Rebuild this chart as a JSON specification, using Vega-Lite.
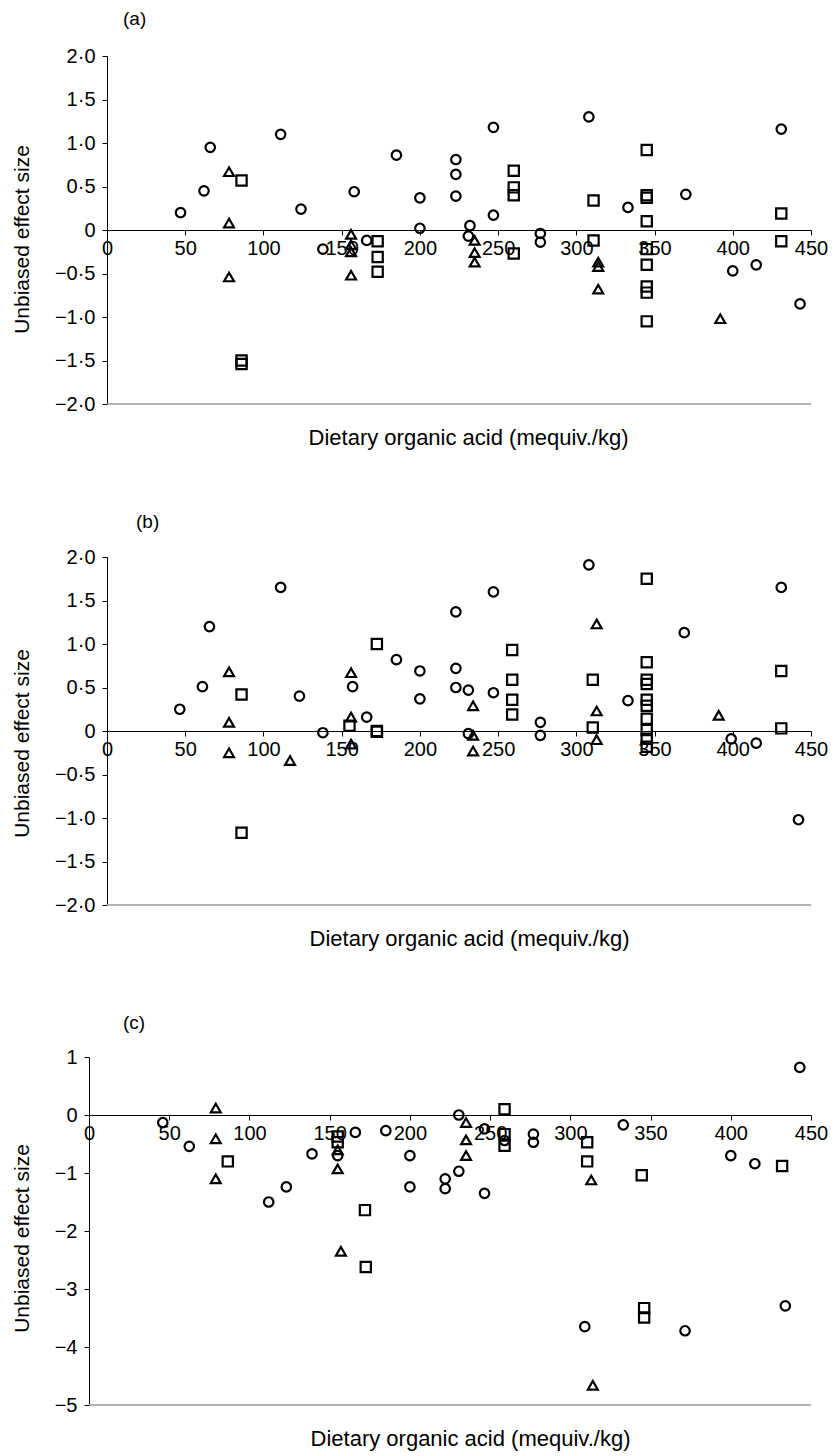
{
  "$schema": "https://vega.github.io/schema/vega-lite/v6.json",
  "background": "white",
  "padding": {"left": 5, "top": 10, "right": 2, "bottom": 2},
  "config": {
    "font": "Liberation Sans",
    "view": {"stroke": null},
    "axis": {"grid": false, "domainColor": "black", "domainWidth": 1, "tickColor": "black", "tickWidth": 1, "labelColor": "black", "titleColor": "black", "titleFontWeight": "normal", "labelOverlap": false, "labelFlush": false}
  },
  "datasets": {
    "a": [
      {"x":47,"y":0.2,"g":"circle"},{"x":62,"y":0.45,"g":"circle"},{"x":66,"y":0.95,"g":"circle"},{"x":111,"y":1.1,"g":"circle"},{"x":124,"y":0.24,"g":"circle"},{"x":138,"y":-0.22,"g":"circle"},{"x":158,"y":0.44,"g":"circle"},{"x":166,"y":-0.12,"g":"circle"},{"x":185,"y":0.86,"g":"circle"},{"x":200,"y":0.37,"g":"circle"},{"x":200,"y":0.02,"g":"circle"},{"x":223,"y":0.81,"g":"circle"},{"x":223,"y":0.64,"g":"circle"},{"x":223,"y":0.39,"g":"circle"},{"x":232,"y":0.05,"g":"circle"},{"x":231,"y":-0.07,"g":"circle"},{"x":247,"y":1.18,"g":"circle"},{"x":247,"y":0.17,"g":"circle"},{"x":277,"y":-0.04,"g":"circle"},{"x":277,"y":-0.14,"g":"circle"},{"x":308,"y":1.3,"g":"circle"},{"x":333,"y":0.26,"g":"circle"},{"x":370,"y":0.41,"g":"circle"},{"x":400,"y":-0.47,"g":"circle"},{"x":415,"y":-0.4,"g":"circle"},{"x":431,"y":1.16,"g":"circle"},{"x":443,"y":-0.85,"g":"circle"},
      {"x":78,"y":0.67,"g":"triangle"},{"x":78,"y":0.08,"g":"triangle"},{"x":78,"y":-0.54,"g":"triangle"},{"x":156,"y":-0.05,"g":"triangle"},{"x":156,"y":-0.17,"g":"triangle"},{"x":156,"y":-0.25,"g":"triangle"},{"x":156,"y":-0.52,"g":"triangle"},{"x":235,"y":-0.12,"g":"triangle"},{"x":235,"y":-0.26,"g":"triangle"},{"x":235,"y":-0.37,"g":"triangle"},{"x":314,"y":-0.37,"g":"triangle"},{"x":314,"y":-0.42,"g":"triangle"},{"x":314,"y":-0.68,"g":"triangle"},{"x":392,"y":-1.02,"g":"triangle"},
      {"x":86,"y":0.57,"g":"square"},{"x":86,"y":-1.5,"g":"square"},{"x":86,"y":-1.54,"g":"square"},{"x":173,"y":-0.13,"g":"square"},{"x":173,"y":-0.31,"g":"square"},{"x":173,"y":-0.48,"g":"square"},{"x":260,"y":0.68,"g":"square"},{"x":260,"y":0.49,"g":"square"},{"x":260,"y":0.4,"g":"square"},{"x":260,"y":-0.27,"g":"square"},{"x":311,"y":0.34,"g":"square"},{"x":311,"y":-0.12,"g":"square"},{"x":345,"y":0.92,"g":"square"},{"x":345,"y":0.4,"g":"square"},{"x":345,"y":0.37,"g":"square"},{"x":345,"y":0.1,"g":"square"},{"x":345,"y":-0.22,"g":"square"},{"x":345,"y":-0.4,"g":"square"},{"x":345,"y":-0.65,"g":"square"},{"x":345,"y":-0.72,"g":"square"},{"x":345,"y":-1.05,"g":"square"},{"x":431,"y":0.19,"g":"square"},{"x":431,"y":-0.13,"g":"square"}
    ],
    "b": [
      {"x":46.5,"y":0.25,"g":"circle"},{"x":61,"y":0.51,"g":"circle"},{"x":65.5,"y":1.2,"g":"circle"},{"x":111,"y":1.65,"g":"circle"},{"x":123,"y":0.4,"g":"circle"},{"x":138,"y":-0.02,"g":"circle"},{"x":157,"y":0.51,"g":"circle"},{"x":166,"y":0.16,"g":"circle"},{"x":185,"y":0.82,"g":"circle"},{"x":200,"y":0.69,"g":"circle"},{"x":200,"y":0.37,"g":"circle"},{"x":223,"y":1.37,"g":"circle"},{"x":223,"y":0.72,"g":"circle"},{"x":223,"y":0.5,"g":"circle"},{"x":231,"y":0.47,"g":"circle"},{"x":231,"y":-0.03,"g":"circle"},{"x":247,"y":1.6,"g":"circle"},{"x":247,"y":0.44,"g":"circle"},{"x":277,"y":0.1,"g":"circle"},{"x":277,"y":-0.05,"g":"circle"},{"x":308,"y":1.91,"g":"circle"},{"x":333,"y":0.35,"g":"circle"},{"x":369,"y":1.13,"g":"circle"},{"x":399,"y":-0.09,"g":"circle"},{"x":415,"y":-0.14,"g":"circle"},{"x":431,"y":1.65,"g":"circle"},{"x":442,"y":-1.02,"g":"circle"},
      {"x":78,"y":0.68,"g":"triangle"},{"x":78,"y":0.1,"g":"triangle"},{"x":78,"y":-0.25,"g":"triangle"},{"x":117,"y":-0.34,"g":"triangle"},{"x":156,"y":0.67,"g":"triangle"},{"x":156,"y":0.16,"g":"triangle"},{"x":156,"y":-0.15,"g":"triangle"},{"x":234,"y":0.29,"g":"triangle"},{"x":234,"y":-0.05,"g":"triangle"},{"x":234,"y":-0.23,"g":"triangle"},{"x":313,"y":1.23,"g":"triangle"},{"x":313,"y":0.23,"g":"triangle"},{"x":313,"y":-0.1,"g":"triangle"},{"x":391,"y":0.18,"g":"triangle"},
      {"x":86,"y":0.42,"g":"square"},{"x":86,"y":-1.17,"g":"square"},{"x":155,"y":0.06,"g":"square"},{"x":172.5,"y":1.0,"g":"square"},{"x":172.5,"y":0.0,"g":"square"},{"x":172.5,"y":-0.01,"g":"square"},{"x":259,"y":0.93,"g":"square"},{"x":259,"y":0.59,"g":"square"},{"x":259,"y":0.36,"g":"square"},{"x":259,"y":0.19,"g":"square"},{"x":310.5,"y":0.59,"g":"square"},{"x":310.5,"y":0.04,"g":"square"},{"x":345,"y":1.75,"g":"square"},{"x":345,"y":0.79,"g":"square"},{"x":345,"y":0.59,"g":"square"},{"x":345,"y":0.54,"g":"square"},{"x":345,"y":0.36,"g":"square"},{"x":345,"y":0.29,"g":"square"},{"x":345,"y":0.14,"g":"square"},{"x":345,"y":0.01,"g":"square"},{"x":345,"y":-0.09,"g":"square"},{"x":345,"y":-0.18,"g":"square"},{"x":431,"y":0.69,"g":"square"},{"x":431,"y":0.03,"g":"square"}
    ],
    "c": [
      {"x":46,"y":-0.13,"g":"circle"},{"x":62.5,"y":-0.54,"g":"circle"},{"x":112,"y":-1.5,"g":"circle"},{"x":123,"y":-1.24,"g":"circle"},{"x":139,"y":-0.67,"g":"circle"},{"x":155,"y":-0.7,"g":"circle"},{"x":166,"y":-0.3,"g":"circle"},{"x":185,"y":-0.27,"g":"circle"},{"x":200,"y":-0.7,"g":"circle"},{"x":200,"y":-1.24,"g":"circle"},{"x":222,"y":-1.1,"g":"circle"},{"x":222,"y":-1.27,"g":"circle"},{"x":230.5,"y":-0.97,"g":"circle"},{"x":230.5,"y":0.0,"g":"circle"},{"x":246.5,"y":-0.24,"g":"circle"},{"x":246.5,"y":-1.35,"g":"circle"},{"x":259,"y":-0.44,"g":"circle"},{"x":277,"y":-0.33,"g":"circle"},{"x":277,"y":-0.47,"g":"circle"},{"x":309,"y":-3.65,"g":"circle"},{"x":333,"y":-0.17,"g":"circle"},{"x":371.5,"y":-3.72,"g":"circle"},{"x":400,"y":-0.7,"g":"circle"},{"x":415,"y":-0.84,"g":"circle"},{"x":434,"y":-3.29,"g":"circle"},{"x":443,"y":0.82,"g":"circle"},
      {"x":79,"y":0.12,"g":"triangle"},{"x":79,"y":-0.41,"g":"triangle"},{"x":79,"y":-1.1,"g":"triangle"},{"x":155,"y":-0.6,"g":"triangle"},{"x":155,"y":-0.93,"g":"triangle"},{"x":157,"y":-2.35,"g":"triangle"},{"x":235,"y":-0.13,"g":"triangle"},{"x":235,"y":-0.43,"g":"triangle"},{"x":235,"y":-0.7,"g":"triangle"},{"x":313,"y":-1.12,"g":"triangle"},{"x":314,"y":-4.66,"g":"triangle"},
      {"x":86.5,"y":-0.8,"g":"square"},{"x":155,"y":-0.37,"g":"square"},{"x":155,"y":-0.47,"g":"square"},{"x":172,"y":-1.64,"g":"square"},{"x":172.5,"y":-2.62,"g":"square"},{"x":259,"y":0.1,"g":"square"},{"x":259,"y":-0.33,"g":"square"},{"x":259,"y":-0.53,"g":"square"},{"x":310.5,"y":-0.47,"g":"square"},{"x":310.5,"y":-0.8,"g":"square"},{"x":344.5,"y":-1.04,"g":"square"},{"x":346,"y":-3.33,"g":"square"},{"x":346,"y":-3.49,"g":"square"},{"x":432,"y":-0.88,"g":"square"}
    ]
  },
  "spacing": 65,
  "vconcat": [
    {
      "spacing": 4,
      "hconcat": [
        {"width": 2, "height": 2, "data": {"values": [{}]}, "mark": {"type": "point", "opacity": 0, "size": 1}},
        {
          "width": 704, "height": 348,
          "title": {"text": "(a)", "anchor": "start", "frame": "group", "dx": 16, "offset": 17, "fontSize": 19, "fontWeight": "normal", "color": "black"},
          "layer": [
            {
              "data": {"values": [{}]},
              "mark": {"type": "rule", "color": "#9a9a9a", "strokeWidth": 1.3},
              "encoding": {"y": {"datum": -2, "type": "quantitative", "scale": {"domain": [-2, 2], "nice": false}}}
            },
            {
              "data": {"name": "a"},
              "mark": {"type": "point", "filled": false, "stroke": "black", "strokeWidth": 2.2, "opacity": 1},
              "encoding": {
                "x": {"field": "x", "type": "quantitative", "scale": {"domain": [0, 450], "nice": false, "zero": false},
                  "axis": {"orient": "bottom", "offset": -174, "values": [0,50,100,150,200,250,300,350,400,450], "format": "d", "tickSize": 5, "labelFontSize": 20, "labelPadding": 3, "title": "Dietary organic acid (mequiv./kg)", "titleFontSize": 22, "titleY": 214, "titleX": 361, "titleBaseline": "alphabetic"}},
                "y": {"field": "y", "type": "quantitative", "scale": {"domain": [-2, 2], "nice": false},
                  "axis": {"values": [-2,-1.5,-1,-0.5,0,0.5,1,1.5,2], "labelExpr": "datum.value == 0 ? '0' : replace(replace(format(datum.value, '.1f'), '.', '·'), '-', '−')", "tickSize": 5, "labelFontSize": 20, "labelPadding": 7, "title": "Unbiased effect size", "titleFontSize": 21, "titlePadding": 22, "titleY": 183}},
                "shape": {"field": "g", "type": "nominal", "scale": {"domain": ["circle", "triangle", "square"], "range": ["circle", "triangle-up", "square"]}, "legend": null},
                "size": {"field": "g", "type": "ordinal", "scale": {"domain": ["circle", "triangle", "square"], "range": [90, 105, 88]}, "legend": null}
              }
            }
          ]
        }
      ]
    },
    {
      "spacing": 4,
      "hconcat": [
        {"width": 2, "height": 2, "data": {"values": [{}]}, "mark": {"type": "point", "opacity": 0, "size": 1}},
        {
          "width": 704, "height": 348,
          "title": {"text": "(b)", "anchor": "start", "frame": "group", "dx": 29, "offset": 15, "fontSize": 19, "fontWeight": "normal", "color": "black"},
          "layer": [
            {
              "data": {"values": [{}]},
              "mark": {"type": "rule", "color": "#9a9a9a", "strokeWidth": 1.3},
              "encoding": {"y": {"datum": -2, "type": "quantitative", "scale": {"domain": [-2, 2], "nice": false}}}
            },
            {
              "data": {"name": "b"},
              "mark": {"type": "point", "filled": false, "stroke": "black", "strokeWidth": 2.2, "opacity": 1},
              "encoding": {
                "x": {"field": "x", "type": "quantitative", "scale": {"domain": [0, 450], "nice": false, "zero": false},
                  "axis": {"orient": "bottom", "offset": -174, "values": [0,50,100,150,200,250,300,350,400,450], "format": "d", "tickSize": 5, "labelFontSize": 20, "labelPadding": 3, "title": "Dietary organic acid (mequiv./kg)", "titleFontSize": 22, "titleY": 214, "titleX": 362, "titleBaseline": "alphabetic"}},
                "y": {"field": "y", "type": "quantitative", "scale": {"domain": [-2, 2], "nice": false},
                  "axis": {"values": [-2,-1.5,-1,-0.5,0,0.5,1,1.5,2], "labelExpr": "datum.value == 0 ? '0' : replace(replace(format(datum.value, '.1f'), '.', '·'), '-', '−')", "tickSize": 5, "labelFontSize": 20, "labelPadding": 7, "title": "Unbiased effect size", "titleFontSize": 21, "titlePadding": 22, "titleY": 186}},
                "shape": {"field": "g", "type": "nominal", "scale": {"domain": ["circle", "triangle", "square"], "range": ["circle", "triangle-up", "square"]}, "legend": null},
                "size": {"field": "g", "type": "ordinal", "scale": {"domain": ["circle", "triangle", "square"], "range": [90, 105, 88]}, "legend": null}
              }
            }
          ]
        }
      ]
    },
    {
      "spacing": 4,
      "hconcat": [
        {"width": 2, "height": 2, "data": {"values": [{}]}, "mark": {"type": "point", "opacity": 0, "size": 1}},
        {
          "width": 722, "height": 348,
          "title": {"text": "(c)", "anchor": "start", "frame": "group", "dx": 34, "offset": 14, "fontSize": 19, "fontWeight": "normal", "color": "black"},
          "layer": [
            {
              "data": {"values": [{}]},
              "mark": {"type": "rule", "color": "#9a9a9a", "strokeWidth": 1.3},
              "encoding": {"y": {"datum": -5, "type": "quantitative", "scale": {"domain": [-5, 1], "nice": false}}}
            },
            {
              "data": {"name": "c"},
              "mark": {"type": "point", "filled": false, "stroke": "black", "strokeWidth": 2.2, "opacity": 1},
              "encoding": {
                "x": {"field": "x", "type": "quantitative", "scale": {"domain": [0, 450], "nice": false, "zero": false},
                  "axis": {"orient": "bottom", "offset": -290, "values": [0,50,100,150,200,250,300,350,400,450], "format": "d", "tickSize": 5, "labelFontSize": 20, "labelPadding": 3, "title": "Dietary organic acid (mequiv./kg)", "titleFontSize": 22, "titleY": 330, "titleX": 381, "titleBaseline": "alphabetic"}},
                "y": {"field": "y", "type": "quantitative", "scale": {"domain": [-5, 1], "nice": false},
                  "axis": {"values": [-5,-4,-3,-2,-1,0,1], "labelExpr": "replace(format(datum.value, 'd'), '-', '−')", "tickSize": 5, "labelFontSize": 20, "labelPadding": 7, "title": "Unbiased effect size", "titleFontSize": 21, "titlePadding": 22, "titleY": 181}},
                "shape": {"field": "g", "type": "nominal", "scale": {"domain": ["circle", "triangle", "square"], "range": ["circle", "triangle-up", "square"]}, "legend": null},
                "size": {"field": "g", "type": "ordinal", "scale": {"domain": ["circle", "triangle", "square"], "range": [90, 105, 88]}, "legend": null}
              }
            }
          ]
        }
      ]
    }
  ]
}
